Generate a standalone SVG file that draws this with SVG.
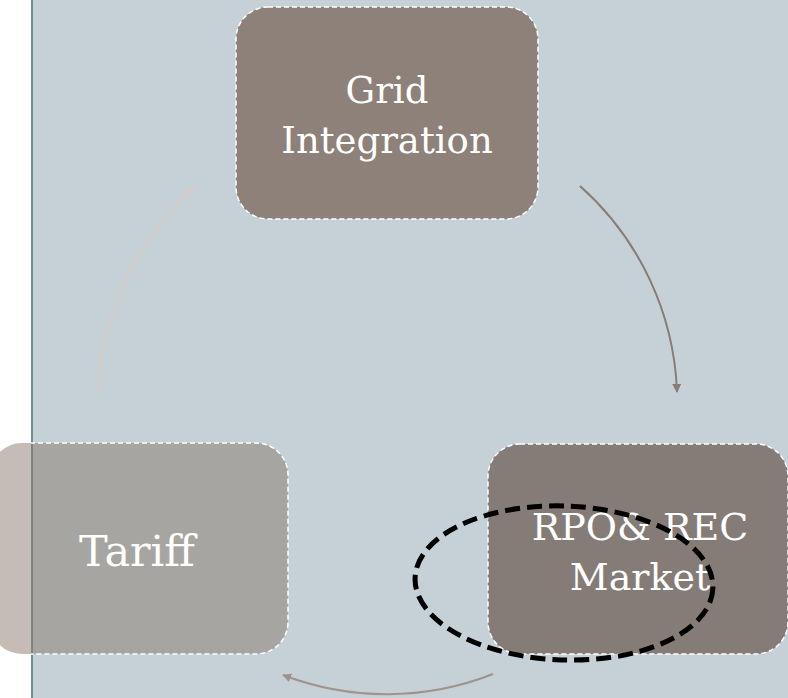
<svg xmlns="http://www.w3.org/2000/svg" width="788" height="698" viewBox="0 0 788 698">
  <style>
    .lbl { font-family: "DejaVu Serif", "Liberation Serif", serif; fill: #ffffff; text-anchor: middle; }
    .border { fill: none; stroke: #ffffff; stroke-width: 1.5; stroke-dasharray: 5 3; }
  </style>
  <defs>
    <marker id="ah1" viewBox="0 0 10 10" refX="9" refY="5" markerWidth="9" markerHeight="9" markerUnits="userSpaceOnUse" orient="auto">
      <path d="M0,0 L10,5 L0,10 z" fill="#8a7c74"/>
    </marker>
    <marker id="ah2" viewBox="0 0 10 10" refX="9" refY="5" markerWidth="9" markerHeight="9" markerUnits="userSpaceOnUse" orient="auto">
      <path d="M0,0 L10,5 L0,10 z" fill="#a0938d"/>
    </marker>
    <marker id="ah3" viewBox="0 0 10 10" refX="9" refY="5" markerWidth="9" markerHeight="9" markerUnits="userSpaceOnUse" orient="auto">
      <path d="M0,0 L10,5 L0,10 z" fill="#d6cbc6"/>
    </marker>
    <clipPath id="rightOfBorder">
      <rect x="31" y="0" width="757" height="698"/>
    </clipPath>
  </defs>

  <rect x="0" y="0" width="788" height="698" fill="#ffffff"/>
  <rect x="31" y="0" width="757" height="698" fill="#c5d1d7"/>
  <line x1="32" y1="0" x2="32" y2="698" stroke="#6f8e8e" stroke-width="2"/>

  <g id="connectors">
    <path d="M 580 186 A 290 290 0 0 1 677 392" fill="none" stroke="#8a7c74" stroke-width="2" marker-end="url(#ah1)"/>
    <path d="M 493 674 A 290 290 0 0 1 283 675" fill="none" stroke="#a0938d" stroke-width="2" marker-end="url(#ah2)"/>
    <path d="M 98 393 A 290 290 0 0 1 195 187" fill="none" stroke="#d6cbc6" stroke-width="2" marker-end="url(#ah3)"/>
  </g>

  <g id="grid-integration">
    <rect x="236" y="7" width="302" height="212" rx="32" ry="32" fill="#8e8179"/>
    <rect x="236" y="7" width="302" height="212" rx="32" ry="32" class="border"/>
    <text class="lbl" x="387" y="103" font-size="37">Grid</text>
    <text class="lbl" x="387" y="153" font-size="37">Integration</text>
  </g>

  <g id="tariff">
    <rect x="-10" y="443" width="298" height="211" rx="32" ry="32" fill="#89796b" fill-opacity="0.5"/>
    <rect x="-10" y="443" width="298" height="211" rx="32" ry="32" class="border" clip-path="url(#rightOfBorder)"/>
    <text class="lbl" x="137" y="566" font-size="43">Tariff</text>
  </g>

  <g id="rpo-rec-market">
    <rect x="488" y="444" width="300" height="210" rx="32" ry="32" fill="#857b77"/>
    <rect x="488" y="444" width="300" height="210" rx="32" ry="32" class="border"/>
    <text class="lbl" x="640" y="540" font-size="38">RPO&amp; REC</text>
    <text class="lbl" x="640" y="590" font-size="38">Market</text>
  </g>

  <g id="highlight">
    <ellipse cx="564" cy="583" rx="149" ry="77" transform="rotate(2 564 583)" fill="none" stroke="#000000" stroke-width="5" stroke-dasharray="15 7"/>
  </g>
</svg>
